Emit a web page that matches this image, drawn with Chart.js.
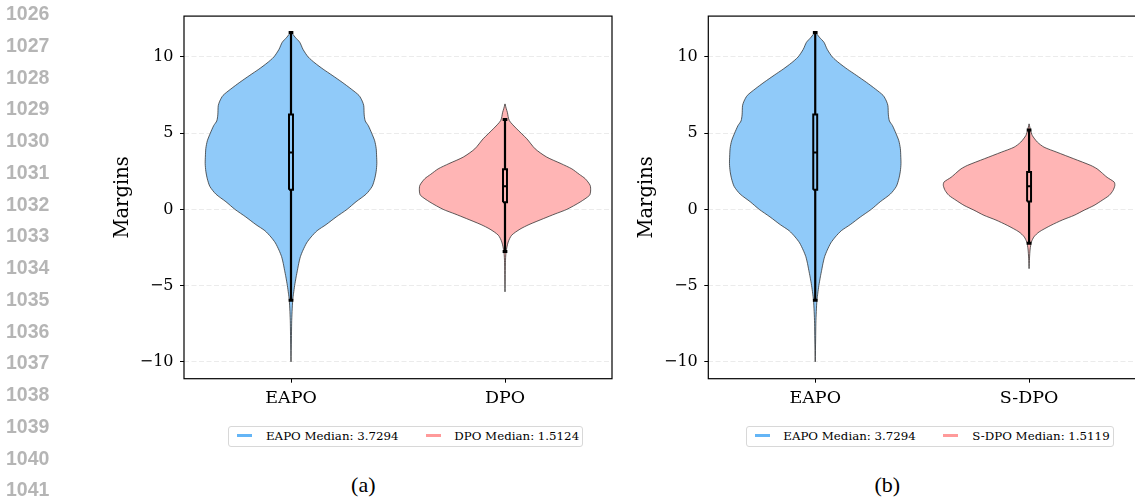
<!DOCTYPE html>
<html><head><meta charset="utf-8">
<script src="https://cdn.jsdelivr.net/npm/chart.js@4.4.0/dist/chart.umd.min.js"></script>
<style>
html,body{margin:0;padding:0;background:#fff;overflow:hidden;width:1135px;height:497px;position:relative;}
canvas{position:absolute;top:0;}
.ln{position:absolute;left:6px;font:bold 19.5px "Liberation Sans",Arial,sans-serif;color:#b5b5b5;line-height:20px;}
.legend{position:absolute;border:1px solid #d8d8d8;border-radius:3px;box-sizing:border-box;height:21px;top:425.5px;background:#fff;}
.lg-line{position:absolute;height:2.5px;top:434.3px;}
.lg-text{position:absolute;font:11.8px "DejaVu Serif",serif;line-height:14px;top:428.5px;white-space:nowrap;color:#000;}
.cap{position:absolute;font:22px "Liberation Serif","Times New Roman",serif;line-height:24px;top:473px;color:#000;transform:translateX(-50%);}
</style></head>
<body>
<canvas id="c1" width="620" height="420" style="left:0px"></canvas>
<canvas id="c2" width="530" height="420" style="left:620px"></canvas>
<div id="overlay"></div>
<script>
// ---------- data ----------
const yTicks = [-10, -5, 0, 5, 10];
const categoriesA = ['EAPO', 'DPO'];
const categoriesB = ['EAPO', 'S-DPO'];
const captions = ['(a)', '(b)'];
const lineNumbers = [1026,1027,1028,1029,1030,1031,1032,1033,1034,1035,1036,1037,1038,1039,1040,1041];

// violin outlines: margin level and half-width (in category units)
const eapoLevels = [11.65, 11.3, 10.96, 10.5, 10.0, 9.6, 9.2, 8.8, 8.34, 7.9, 7.47, 7.1, 6.8, 6.2, 5.8, 5.5, 5.0, 4.5, 4.0, 3.5, 3.0, 2.5, 2.0, 1.5, 1.0, 0.5, 0.0, -0.5, -1.0, -1.4, -1.81, -2.2, -2.68, -3.1, -3.56, -4.0, -4.43, -5.0, -5.5, -5.96, -6.7, -7.47, -8.5, -10.0];
const eapoHalfWidths = [0, 0.019, 0.041, 0.056, 0.080, 0.112, 0.150, 0.192, 0.239, 0.281, 0.318, 0.333, 0.340, 0.342, 0.347, 0.361, 0.377, 0.391, 0.398, 0.400, 0.401, 0.398, 0.391, 0.379, 0.351, 0.304, 0.262, 0.211, 0.164, 0.122, 0.094, 0.073, 0.056, 0.044, 0.036, 0.030, 0.024, 0.017, 0.012, 0.008, 0.005, 0.003, 0.002, 0];
const dpoLevels = [6.92, 6.6, 6.37, 5.83, 5.28, 4.63, 3.97, 3.43, 3.0, 2.66, 2.3, 2.01, 1.57, 1.2, 0.92, 0.48, 0.0, -0.3, -0.61, -1.0, -1.3, -1.7, -2.14, -2.79, -3.5, -4.5, -5.41];
const dpoHalfWidths = [0, 0.006, 0.011, 0.020, 0.055, 0.102, 0.141, 0.195, 0.262, 0.312, 0.347, 0.375, 0.398, 0.400, 0.395, 0.351, 0.289, 0.234, 0.179, 0.112, 0.070, 0.031, 0.015, 0.005, 0.002, 0.001, 0];
const sdpoLevels = [5.61, 5.2, 4.85, 4.41, 4.08, 3.75, 3.32, 2.88, 2.66, 2.44, 2.1, 1.79, 1.57, 1.25, 0.92, 0.6, 0.26, -0.05, -0.39, -0.7, -1.05, -1.48, -1.8, -2.14, -2.6, -3.2, -3.89];
const sdpoHalfWidths = [0, 0.007, 0.015, 0.039, 0.070, 0.130, 0.209, 0.289, 0.318, 0.337, 0.365, 0.398, 0.401, 0.393, 0.375, 0.342, 0.304, 0.258, 0.211, 0.155, 0.102, 0.047, 0.023, 0.011, 0.005, 0.002, 0];

// box statistics: [lower whisker, Q1, median, Q3, upper whisker]
const eapoStats = [-5.96, 1.29, 3.7294, 6.22, 11.6];
const dpoStats = [-2.76, 0.46, 1.5124, 2.64, 5.9];
const sdpoStats = [-2.22, 0.52, 1.5119, 2.45, 5.2];

// ---------- styles ----------
const BLUE_FILL = '#90caf9', RED_FILL = '#ffb5b5';
const BLUE_LINE = '#64b5f6', RED_LINE = '#ff9a9a';
const SERIF = '"DejaVu Serif", serif';
Chart.defaults.font.family = SERIF;
Chart.defaults.color = '#000';

function violinDatasets(center, levels, halfW, stats, fillColor) {
  const outline = levels.map((y, i) => ({x: center + halfW[i], y}));
  for (let i = levels.length - 1; i >= 0; i--) outline.push({x: center - halfW[i], y: levels[i]});
  const bw = 0.0092, cw = 0.011;
  const base = {pointRadius: 0, fill: false, borderColor: '#000', tension: 0, order: 0};
  return [
    {data: outline, fill: 'shape', backgroundColor: fillColor, borderColor: 'rgba(45,45,45,0.85)', borderWidth: 0.9, pointRadius: 0, tension: 0.25, order: 5},
    {...base, data: [{x: center, y: stats[0]}, {x: center, y: stats[1]}], borderWidth: 2.2},
    {...base, data: [{x: center, y: stats[3]}, {x: center, y: stats[4]}], borderWidth: 2.2},
    {...base, data: [{x: center - bw, y: stats[1]}, {x: center + bw, y: stats[1]}, {x: center + bw, y: stats[3]}, {x: center - bw, y: stats[3]}, {x: center - bw, y: stats[1]}], borderWidth: 2},
    {...base, data: [{x: center - bw, y: stats[2]}, {x: center + bw, y: stats[2]}], borderWidth: 2},
    {...base, data: [{x: center - cw, y: stats[0]}, {x: center + cw, y: stats[0]}], borderWidth: 3},
    {...base, data: [{x: center - cw, y: stats[4]}, {x: center + cw, y: stats[4]}], borderWidth: 3}
  ];
}

const spinePlugin = {
  id: 'spines',
  afterDatasetsDraw(chart) {
    const {ctx, chartArea: a} = chart;
    ctx.save();
    ctx.strokeStyle = '#000';
    ctx.lineWidth = 1.2;
    ctx.strokeRect(a.left, a.top, a.right - a.left, a.bottom - a.top);
    ctx.restore();
  }
};

function makeChart(canvasId, cats, groups, yAxisWidth, titleOffset, rightPad) {
  const datasets = [];
  groups.forEach((g, i) => datasets.push(...violinDatasets(i + 1, g.levels, g.halfW, g.stats, g.color)));
  return new Chart(document.getElementById(canvasId), {
    type: 'line',
    data: {datasets},
    plugins: [spinePlugin],
    options: {
      responsive: false, animation: false, devicePixelRatio: 1, events: [],
      layout: {padding: {top: 15.3, left: 0, right: rightPad, bottom: 0}},
      plugins: {legend: {display: false}, tooltip: {enabled: false}},
      scales: {
        x: {
          type: 'linear', min: 0.5, max: 2.5,
          afterBuildTicks: s => { s.ticks = cats.map((c, i) => ({value: i + 1})); },
          ticks: {callback: v => cats[Math.round(v) - 1], font: {size: 17.5, family: SERIF}, color: '#000', padding: 5, maxRotation: 0},
          grid: {drawOnChartArea: false, tickColor: '#000', tickLength: 4, tickWidth: 1},
          border: {display: false},
          afterFit: s => { s.height = 41.3; }
        },
        y: {
          type: 'linear', min: -11.11, max: 12.68,
          afterBuildTicks: s => { s.ticks = yTicks.map(v => ({value: v})); },
          ticks: {callback: v => (v < 0 ? '\u2212' + Math.abs(v) : String(v)), font: {size: 16, family: SERIF}, color: '#000', padding: 6.5},
          grid: {color: 'rgba(0,0,0,0.1)', lineWidth: 0.8, tickColor: '#000', tickLength: 4, tickWidth: 1},
          border: {display: false, dash: [5, 2.5]},
          title: {display: true, text: 'Margins', font: {size: 19.5, family: SERIF}, color: '#000', padding: {top: titleOffset, bottom: 0}},
          afterFit: s => { s.width = yAxisWidth; }
        }
      }
    }
  });
}

makeChart('c1', categoriesA, [
  {levels: eapoLevels, halfW: eapoHalfWidths, stats: eapoStats, color: BLUE_FILL},
  {levels: dpoLevels, halfW: dpoHalfWidths, stats: dpoStats, color: RED_FILL}
], 184, 111.6, 8);
makeChart('c2', categoriesB, [
  {levels: eapoLevels, halfW: eapoHalfWidths, stats: eapoStats, color: BLUE_FILL},
  {levels: sdpoLevels, halfW: sdpoHalfWidths, stats: sdpoStats, color: RED_FILL}
], 88.3, 15, 14);

// ---------- HTML overlay: line numbers, legends, captions ----------
const ov = document.getElementById('overlay');
function add(cls, style, text) {
  const d = document.createElement('div');
  d.className = cls;
  Object.assign(d.style, style);
  if (text != null) d.textContent = text;
  ov.appendChild(d);
}
lineNumbers.forEach((n, k) => add('ln', {top: (13.3 + 31.73 * k - 10) + 'px'}, String(n)));

const legends = [
  {box: [228, 355], items: [[237.3, 266, BLUE_LINE, categoriesA[0], eapoStats[2]], [426, 454.3, RED_LINE, categoriesA[1], dpoStats[2]]]},
  {box: [746, 368], items: [[755, 783.3, BLUE_LINE, categoriesB[0], eapoStats[2]], [943.3, 972.3, RED_LINE, categoriesB[1], sdpoStats[2]]]}
];
legends.forEach(L => {
  add('legend', {left: L.box[0] + 'px', width: L.box[1] + 'px'});
  L.items.forEach(([lx, tx, col, name, med]) => {
    add('lg-line', {left: lx + 'px', width: '14.5px', background: col});
    add('lg-text', {left: tx + 'px'}, name + ' Median: ' + med.toFixed(4));
  });
});
add('cap', {left: '363.3px'}, captions[0]);
add('cap', {left: '887.3px'}, captions[1]);
</script>
</body></html>
